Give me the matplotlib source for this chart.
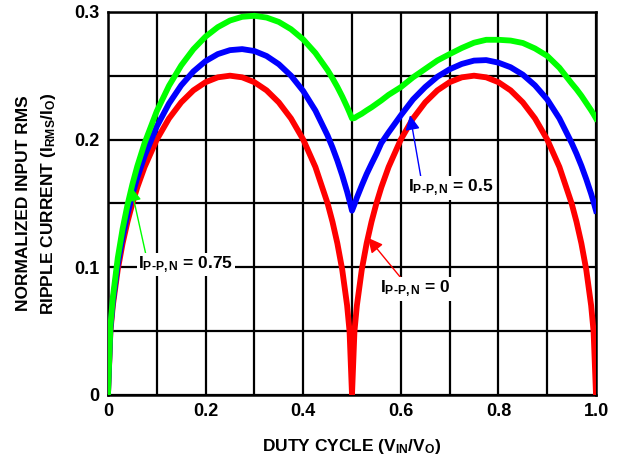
import matplotlib
matplotlib.use("Agg")
import matplotlib.pyplot as plt
from matplotlib.ticker import MultipleLocator

plt.rcParams['font.family'] = ['Liberation Sans', 'DejaVu Sans']
plt.rcParams['font.weight'] = 'bold'
plt.rcParams['mathtext.fontset'] = 'custom'
plt.rcParams['mathtext.rm'] = 'Liberation Sans:bold'
plt.rcParams['mathtext.it'] = 'Liberation Sans:bold'
plt.rcParams['mathtext.bf'] = 'Liberation Sans:bold'

# duty cycle points
duty = [0, 0.005, 0.01, 0.02, 0.03, 0.04, 0.05, 0.06, 0.075, 0.1, 0.125, 0.15, 0.175,
        0.2, 0.225, 0.25, 0.275, 0.3, 0.325, 0.35, 0.375, 0.4, 0.425, 0.45, 0.46,
        0.47, 0.48, 0.49, 0.495, 0.5,
        0.505, 0.51, 0.52, 0.53, 0.54, 0.55, 0.56, 0.575, 0.6, 0.625, 0.65, 0.675,
        0.7, 0.725, 0.75, 0.775, 0.8, 0.825, 0.85, 0.875, 0.9, 0.925, 0.95, 0.96,
        0.97, 0.98, 0.99, 0.995, 1.0]

# I P-P,N = 0
ripple_0 = [0, 0.0497, 0.0700, 0.0980, 0.1187, 0.1356, 0.1500, 0.1625, 0.1785, 0.2000, 0.2165, 0.2291, 0.2385,
            0.2449, 0.2487, 0.2500, 0.2487, 0.2449, 0.2385, 0.2291, 0.2165, 0.2000, 0.1785, 0.1500, 0.1356,
            0.1187, 0.0980, 0.0700, 0.0497, 0,
            0.0497, 0.0700, 0.0980, 0.1187, 0.1356, 0.1500, 0.1625, 0.1785, 0.2000, 0.2165, 0.2291, 0.2385,
            0.2449, 0.2487, 0.2500, 0.2487, 0.2449, 0.2385, 0.2291, 0.2165, 0.2000, 0.1785, 0.1500, 0.1356,
            0.1187, 0.0980, 0.0700, 0.0497, 0]

# I P-P,N = 0.5
ripple_05 = [0, 0.0518, 0.0729, 0.1021, 0.1239, 0.1417, 0.1568, 0.1700, 0.1871, 0.2102, 0.2282, 0.2424, 0.2533,
             0.2614, 0.2669, 0.2700, 0.2708, 0.2693, 0.2654, 0.2590, 0.2500, 0.2380, 0.2227, 0.2031, 0.1938,
             0.1835, 0.1720, 0.1591, 0.1520, 0.1443,
             0.1492, 0.1545, 0.1640, 0.1730, 0.1810, 0.1887, 0.1972, 0.2056, 0.2189, 0.2314, 0.2411, 0.2492,
             0.2550, 0.2592, 0.2618, 0.2622, 0.2602, 0.2566, 0.2508, 0.2424, 0.2314, 0.2165, 0.1974, 0.1889,
             0.1795, 0.1690, 0.1575, 0.1511, 0.1443]

# I P-P,N = 0.75
ripple_075 = [0, 0.0542, 0.0764, 0.1071, 0.1301, 0.1488, 0.1649, 0.1790, 0.1972, 0.2222, 0.2421, 0.2580, 0.2707,
              0.2806, 0.2880, 0.2932, 0.2961, 0.2969, 0.2955, 0.2921, 0.2864, 0.2784, 0.2678, 0.2543, 0.2480,
              0.2412, 0.2337, 0.2255, 0.2211, 0.2165,
              0.2168, 0.2181, 0.2202, 0.2228, 0.2252, 0.2279, 0.2306, 0.2350, 0.2410, 0.2487, 0.2553, 0.2619,
              0.2669, 0.2717, 0.2758, 0.2781, 0.2781, 0.2775, 0.2756, 0.2713, 0.2655, 0.2562, 0.2440, 0.2394,
              0.2343, 0.2286, 0.2229, 0.2198, 0.2165]

fig = plt.figure(figsize=(6.17, 4.55), dpi=100)
ax = fig.add_axes([0.175, 0.132, 0.791, 0.842])

ax.plot(duty, ripple_0, color='#ff0000', lw=4.2, solid_joinstyle='round', zorder=3)
ax.plot(duty, ripple_05, color='#0000ff', lw=4.2, solid_joinstyle='round', zorder=4)
ax.plot(duty, ripple_075, color='#00ff00', lw=4.2, solid_joinstyle='round', zorder=5)

ax.set_xlim(0, 1.0)
ax.set_ylim(0, 0.3)
ax.set_xticks([0, 0.2, 0.4, 0.6, 0.8, 1.0])
ax.set_xticklabels(['0', '0.2', '0.4', '0.6', '0.8', '1.0'])
ax.xaxis.set_minor_locator(MultipleLocator(0.1))
ax.set_yticks([0, 0.1, 0.2, 0.3])
ax.set_yticklabels(['0', '0.1', '0.2', '0.3'])
ax.yaxis.set_minor_locator(MultipleLocator(0.05))
ax.tick_params(which='both', length=0, labelsize=13, pad=6)
ax.grid(which='both', color='black', lw=1.6)
for s in ax.spines.values():
    s.set_linewidth(1.8)

ax.set_xlabel(r'DUTY CYCLE (V$_{IN}$/V$_{O}$)', fontsize=12.5, fontweight='bold', labelpad=12)
ax.set_ylabel('NORMALIZED INPUT RMS\n' + r'RIPPLE CURRENT (I$_{RMS}$/I$_{O}$)',
              fontsize=12.5, fontweight='bold', labelpad=12, linespacing=1.55)

box = dict(facecolor='white', edgecolor='none', pad=1)
ax.annotate(r'I$_{P\text{-}P,N}$ = 0.75', xy=(0.047, 0.163), xytext=(0.062, 0.102),
            fontsize=12.5, fontweight='bold', ha='left', va='center', bbox=box, zorder=6,
            arrowprops=dict(arrowstyle='-|>', color='#00ff00', lw=1, mutation_scale=22,
                            shrinkA=0, shrinkB=0, relpos=(0.08, 1.0)))
ax.annotate(r'I$_{P\text{-}P,N}$ = 0.5', xy=(0.619, 0.219), xytext=(0.615, 0.162),
            fontsize=12.5, fontweight='bold', ha='left', va='center', bbox=box, zorder=6,
            arrowprops=dict(arrowstyle='-|>', color='#0000ff', lw=1, mutation_scale=22,
                            shrinkA=0, shrinkB=0, relpos=(0.15, 1.0)))
ax.annotate(r'I$_{P\text{-}P,N}$ = 0', xy=(0.533, 0.123), xytext=(0.558, 0.083),
            fontsize=12.5, fontweight='bold', ha='left', va='center', bbox=box, zorder=6,
            arrowprops=dict(arrowstyle='-|>', color='#ff0000', lw=1, mutation_scale=22,
                            shrinkA=0, shrinkB=0, relpos=(0.3, 1.0)))

fig.savefig('out.png', dpi=100)
